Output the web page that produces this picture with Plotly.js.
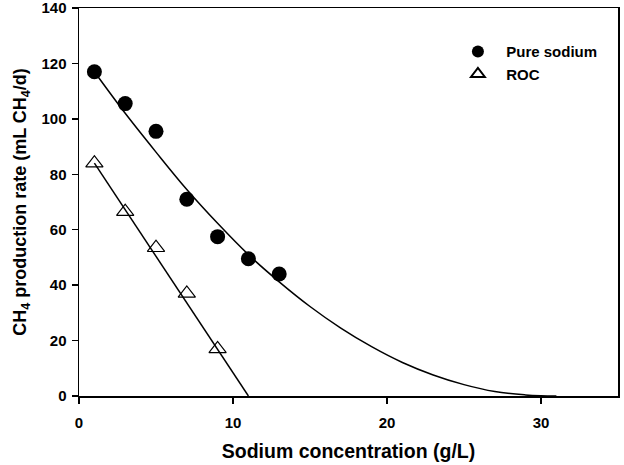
<!DOCTYPE html>
<html>
<head>
<meta charset="utf-8">
<script src="https://cdn.plot.ly/plotly-3.0.1.min.js"></script>
<style>
  html, body { margin: 0; padding: 0; background: #fff; }
  #chart { width: 624px; height: 465px; }
</style>
</head>
<body>
<div id="chart"></div>
<script>
// measured points
const sodiumX = [1, 3, 5, 7, 9, 11, 13];
const pureSodium = [117, 105.5, 95.5, 71, 57.5, 49.5, 44];
const rocX = [1, 3, 5, 7, 9];
const roc = [84, 66.5, 53.5, 37, 17];

// fitted curves
const pureFitX = [1, 3, 5, 7, 9, 11, 13, 15, 17, 19, 21, 23, 25, 27, 29, 30, 31];
const pureFitY = [117, 102, 88, 74.5, 62.3, 51, 41.2, 32.3, 24.5, 17.8, 12.1, 7.6, 4.1, 1.6, 0.4, 0.1, 0];
const rocFitX = [1, 3, 5, 7, 9, 11];
const rocFitY = [84, 67.2, 50.4, 33.6, 16.8, 0];

const black = '#000000';
const font = { family: 'Liberation Sans, Arial, sans-serif', color: black };
const pad = '\u00a0\u00a0';

const traces = [
    {
        x: pureFitX, y: pureFitY, type: 'scatter', mode: 'lines',
        line: { color: black, width: 1.5, shape: 'spline' },
        showlegend: false, hoverinfo: 'skip'
    },
    {
        x: rocFitX, y: rocFitY, type: 'scatter', mode: 'lines',
        line: { color: black, width: 1.5 },
        showlegend: false, hoverinfo: 'skip'
    },
    {
        x: sodiumX, y: pureSodium, type: 'scatter', mode: 'markers',
        name: pad + '<b>Pure sodium</b>',
        marker: { symbol: 'circle', size: 15, color: black }
    },
    {
        x: rocX, y: roc, type: 'scatter', mode: 'markers',
        name: pad + '<b>ROC</b>',
        marker: { symbol: 'triangle-up-open', size: 15, color: black, line: { width: 1.2, color: black } }
    }
];

const axisBase = {
    showline: true, mirror: true, linecolor: black, linewidth: 1.5,
    ticks: 'outside', ticklen: 6, tickwidth: 1.5, tickcolor: black,
    showgrid: false, zeroline: false, ticklabeloverflow: 'allow',
    tickprefix: '<b>', ticksuffix: '</b>',
    tickfont: { family: font.family, size: 15, color: black }
};

const layout = {
    width: 624, height: 465,
    margin: { l: 79, r: 6, t: 8, b: 69 },
    paper_bgcolor: '#ffffff',
    plot_bgcolor: '#ffffff',
    font: font,
    xaxis: Object.assign({}, axisBase, {
        range: [0, 35], dtick: 10, tick0: 0, ticklabelstandoff: 6,
        title: { text: '<b>Sodium concentration (g/L)</b>', font: { family: font.family, size: 19.5, color: black }, standoff: 15 }
    }),
    yaxis: Object.assign({}, axisBase, {
        range: [0, 140], dtick: 20, tick0: 0, ticklabelstandoff: 2,
        title: { text: '<b>CH<sub>4</sub> production rate (mL CH<sub>4</sub>/d)</b>', font: { family: font.family, size: 18, color: black }, standoff: 10 }
    }),
    legend: {
        x: 0.703, y: 0.93, xanchor: 'left', yanchor: 'top',
        bgcolor: 'rgba(0,0,0,0)',
        font: { family: font.family, size: 15, color: black },
        tracegroupgap: 0, itemsizing: 'constant'
    },
    showlegend: true
};

Plotly.newPlot('chart', traces, layout, { displayModeBar: false, staticPlot: true });
</script>
</body>
</html>
